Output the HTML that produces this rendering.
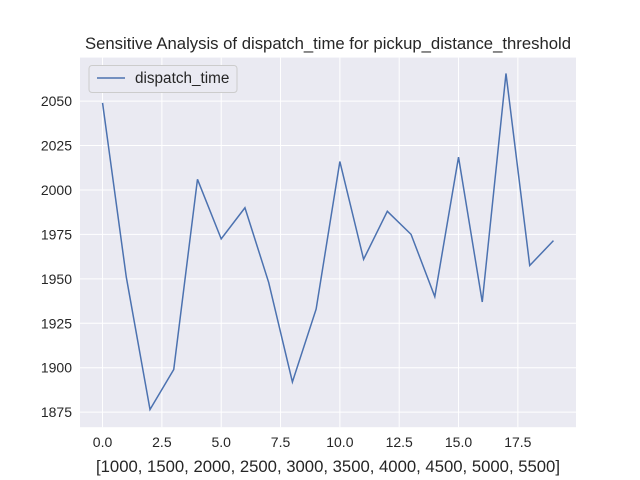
<!DOCTYPE html>
<html><head><meta charset="utf-8"><style>
body{margin:0;background:#fff;}
svg{display:block;font-family:"Liberation Sans",Arial,sans-serif;}
</style></head><body>
<svg width="640" height="480">
<rect x="0" y="0" width="640" height="480" fill="#fff"/>
<rect x="80" y="57.6" width="496" height="369.6" fill="#eaeaf2"/>
<g id="grid"></g><g id="ticks"></g>
<polyline id="line" fill="none" stroke="#4c72b0" stroke-width="1.5"/>
<text x="328" y="49" text-anchor="middle" font-size="16.7" fill="#262626">Sensitive Analysis of dispatch_time for pickup_distance_threshold</text>
<text x="328" y="472" text-anchor="middle" font-size="16.7" fill="#262626">[1000, 1500, 2000, 2500, 3000, 3500, 4000, 4500, 5000, 5500]</text>
<g>
<rect x="89" y="65.5" width="148" height="27" rx="3" fill="#eaeaf2" stroke="#cccccc"/>
<line x1="97" y1="78" x2="125" y2="78" stroke="#4c72b0" stroke-width="1.5"/>
<text x="135" y="83" font-size="15.3" fill="#262626">dispatch_time</text>
</g>
</svg>
<script>
const xValues=[0,1,2,3,4,5,6,7,8,9,10,11,12,13,14,15,16,17,18,19];
const dispatchTime=[2049,1951,1876.5,1899,2006,1972.5,1990,1948,1892,1933,2016,1961,1988,1975,1940,2018.5,1937,2065.5,1957.5,1971.5];
const xTicks=[0,2.5,5,7.5,10,12.5,15,17.5];
const xTickLabels=["0.0","2.5","5.0","7.5","10.0","12.5","15.0","17.5"];
const yTicks=[1875,1900,1925,1950,1975,2000,2025,2050];
const L=80,R=576,T=57.6,B=427.2;
const xmin=-0.95,xmax=19.95,ymin=1866.55,ymax=2074.45;
const xs=v=>L+(v-xmin)/(xmax-xmin)*(R-L);
const ys=v=>B-(v-ymin)/(ymax-ymin)*(B-T);
const NS="http://www.w3.org/2000/svg";
const grid=document.getElementById('grid'),ticks=document.getElementById('ticks');
function mk(tag,attrs,parent){const e=document.createElementNS(NS,tag);for(const k in attrs)e.setAttribute(k,attrs[k]);parent.appendChild(e);return e;}
xTicks.forEach((t,i)=>{
  const g=mk('line',{x1:xs(t),x2:xs(t),y1:T,y2:B,stroke:'#fff','stroke-width':1},grid);
  
  
  const tx=mk('text',{x:xs(t),y:B+20,'text-anchor':'middle','font-size':14,fill:'#262626'},ticks);
  tx.textContent=xTickLabels[i];
  
  
});
yTicks.forEach(t=>{
  const g=mk('line',{x1:L,x2:R,y1:ys(t),y2:ys(t),stroke:'#fff','stroke-width':1},grid);
  
  
  const tx=mk('text',{x:L-8,y:ys(t)+5,'text-anchor':'end','font-size':14,fill:'#262626'},ticks);
  tx.textContent=t;
  
  
});
document.getElementById('line').setAttribute('points',xValues.map((x,i)=>xs(x)+','+ys(dispatchTime[i])).join(' '));
</script>
</body></html>
